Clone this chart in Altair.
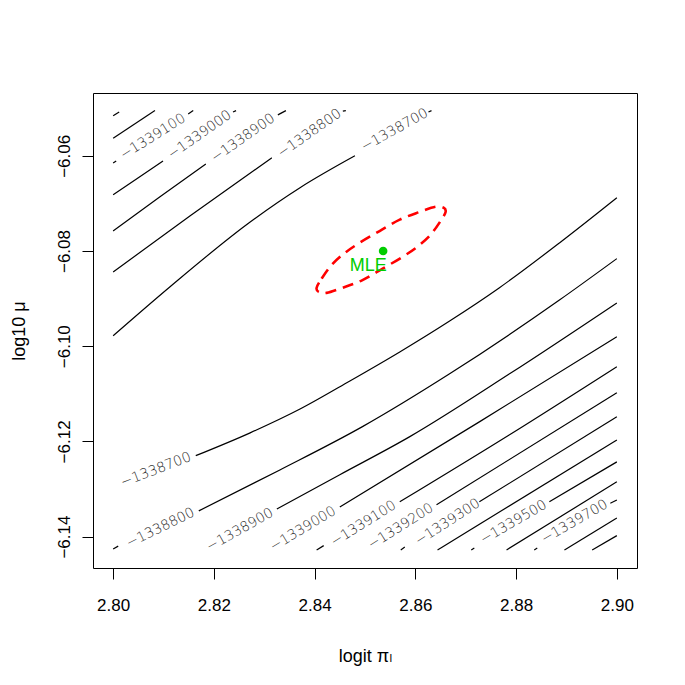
import altair as alt
import pandas as pd

# ---- axis ticks ----
x_ticks = [2.80, 2.82, 2.84, 2.86, 2.88, 2.90]
y_ticks = [-6.14, -6.12, -6.10, -6.08, -6.06]
x_domain = [2.796, 2.904]
y_domain = [-6.1466, -6.0468]

# ---- contour pieces, upper-left branches: (level, x values, y values) ----
upper_segments = [
    (-1339300, [2.8000, 2.8012], [-6.0516, -6.0508]),
    (-1339200, [2.8000, 2.8083], [-6.0563, -6.0505]),
    (-1339100, [2.8000, 2.8006], [-6.0615, -6.0611]),
    (-1339100, [2.8149, 2.8159], [-6.0512, -6.0505]),
    (-1339000, [2.8000, 2.8050, 2.8099], [-6.0682, -6.0646, -6.0611]),
    (-1339000, [2.8238, 2.8244], [-6.0508, -6.0505]),
    (-1338900, [2.8000, 2.8093, 2.8184], [-6.0758, -6.0686, -6.0617]),
    (-1338900, [2.8327, 2.8343], [-6.0514, -6.0505]),
    (-1338800, [2.8000, 2.8153, 2.8315], [-6.0844, -6.0726, -6.0604]),
    (-1338800, [2.8456, 2.8462], [-6.0506, -6.0505]),
    (-1338700, [2.8000, 2.8113, 2.8272, 2.8371, 2.8480],
               [-6.0978, -6.0875, -6.0739, -6.0667, -6.0600]),
    (-1338700, [2.8626, 2.8632], [-6.0508, -6.0505]),
]

# ---- contour pieces, lower-right branches ----
lower_segments = [
    (-1338700, [2.8164, 2.8272, 2.8371, 2.8470, 2.8569, 2.8668, 2.8767, 2.8886, 2.9000],
               [-6.1230, -6.1182, -6.1132, -6.1073, -6.1012, -6.0947, -6.0877, -6.0783, -6.0688]),
    (-1338800, [2.8000, 2.8010], [-6.1426, -6.1420]),
    (-1338800, [2.8170, 2.8331, 2.8495, 2.8668, 2.8886, 2.9000],
               [-6.1346, -6.1260, -6.1169, -6.1058, -6.0903, -6.0816]),
    (-1338900, [2.8325, 2.8450, 2.8589, 2.8787, 2.9000],
               [-6.1342, -6.1270, -6.1190, -6.1058, -6.0909]),
    (-1339000, [2.8450, 2.8727, 2.9000], [-6.1338, -6.1159, -6.0980]),
    (-1339100, [2.8404, 2.8418], [-6.1428, -6.1419]),
    (-1339100, [2.8569, 2.8787, 2.9000], [-6.1327, -6.1186, -6.1043]),
    (-1339200, [2.8642, 2.9000], [-6.1333, -6.1098]),
    (-1339300, [2.8571, 2.8579], [-6.1428, -6.1422]),
    (-1339300, [2.8727, 2.9000], [-6.1327, -6.1148]),
    (-1339400, [2.8644, 2.9000], [-6.1428, -6.1197]),
    (-1339500, [2.8711, 2.8717], [-6.1428, -6.1424]),
    (-1339500, [2.8866, 2.9000], [-6.1327, -6.1243]),
    (-1339600, [2.8781, 2.9000], [-6.1428, -6.1285]),
    (-1339700, [2.8836, 2.8842], [-6.1428, -6.1424]),
    (-1339700, [2.8987, 2.9000], [-6.1330, -6.1323]),
    (-1339800, [2.8896, 2.9000], [-6.1428, -6.1361]),
    (-1339900, [2.8951, 2.9000], [-6.1428, -6.1398]),
]

# ---- contour labels ----
label_text = ["\u22121339100", "\u22121339000", "\u22121338900", "\u22121338800", "\u22121338700",
              "\u22121338700", "\u22121338800", "\u22121338900", "\u22121339000", "\u22121339100",
              "\u22121339200", "\u22121339300", "\u22121339500", "\u22121339700"]
label_x = [2.8079, 2.8172, 2.8258, 2.8390, 2.8559,
           2.8085, 2.8094, 2.8252, 2.8377, 2.8497,
           2.8571, 2.8664, 2.8795, 2.8916]
label_y = [-6.0560, -6.0556, -6.0563, -6.0553, -6.0546,
           -6.1260, -6.1382, -6.1386, -6.1384, -6.1373,
           -6.1379, -6.1370, -6.1370, -6.1369]
label_angle = [328, 325, 325, 325, 331,
               339, 334, 331, 329, 328,
               328, 327, 330, 330]

# ---- confidence region (dashed red) ----
ellipse_x = [2.8404, 2.8414, 2.8434, 2.8460, 2.8489, 2.8529, 2.8569, 2.8608, 2.8640, 2.8656,
             2.8660, 2.8650, 2.8630, 2.8604, 2.8575, 2.8535, 2.8495, 2.8456, 2.8424, 2.8408]
ellipse_y = [-6.0877, -6.0858, -6.0829, -6.0804, -6.0783, -6.0758, -6.0734, -6.0718, -6.0707, -6.0709,
             -6.0718, -6.0737, -6.0766, -6.0791, -6.0812, -6.0837, -6.0861, -6.0877, -6.0888, -6.0886]

# ---- MLE ----
mle_x = [2.8536]
mle_y = [-6.0800]
mle_text = ["MLE"]

# ---------------- build tables ----------------
rows = []
for i, (lev, xs, ys) in enumerate(upper_segments + lower_segments):
    for j, (xv, yv) in enumerate(zip(xs, ys)):
        rows.append({"seg": i, "level": lev, "o": j, "x": xv, "y": yv})
seg_df = pd.DataFrame(rows)

lab_df = pd.DataFrame({"x": label_x, "y": label_y, "t": label_text, "a": label_angle})
ell_df = pd.DataFrame({"x": ellipse_x, "y": ellipse_y, "o": list(range(len(ellipse_x)))})
mle_df = pd.DataFrame({"x": mle_x, "y": mle_y, "t": mle_text})

FONT = "Liberation Sans, Arial, Helvetica, DejaVu Sans"

xscale = alt.Scale(domain=x_domain, nice=False, zero=False)
yscale = alt.Scale(domain=y_domain, nice=False, zero=False)

x_axis = alt.Axis(
    values=x_ticks, format=".2f", grid=False, domain=False,
    tickSize=11, tickColor="black", tickWidth=1,
    labelFont=FONT, labelFontSize=17, labelColor="black",
    labelPadding=18, labelBaseline="top", labelFlush=False, labelOverlap=False,
    title="logit \u03c0\u2097", titleFont=FONT, titleFontSize=18, titleFontWeight="normal",
    titleColor="black", titleY=93, titleBaseline="alphabetic",
)
y_axis = alt.Axis(
    values=y_ticks, format=".2f", grid=False, domain=False,
    tickSize=11, tickColor="black", tickWidth=1,
    labelFont=FONT, labelFontSize=17, labelColor="black",
    labelAngle=270, labelAlign="center", labelBaseline="alphabetic",
    labelPadding=13, labelFlush=False, labelOverlap=False,
    title="log10 \u03bc", titleFont=FONT, titleFontSize=18, titleFontWeight="normal",
    titleColor="black", titleAngle=270, titleAlign="center", titleBaseline="alphabetic",
    titleX=-69, titleY=237.5,
)

base_x = alt.X("x:Q", scale=xscale, axis=x_axis)
base_y = alt.Y("y:Q", scale=yscale, axis=y_axis)

lines = alt.Chart(seg_df).mark_line(color="black", strokeWidth=1.2, interpolate="monotone").encode(
    x=base_x, y=base_y, detail="seg:N", order="o:Q"
)

labels = alt.Chart(lab_df).mark_text(
    font="DejaVu Sans", fontSize=14, fontWeight=200, color="#2e2e2e",
    align="center", baseline="middle"
).encode(
    x=alt.X("x:Q", scale=xscale), y=alt.Y("y:Q", scale=yscale),
    text="t:N", angle=alt.Angle("a:Q", scale=None)
)

ellipse = alt.Chart(ell_df).mark_line(
    color="#FF0000", strokeWidth=2.6, strokeDash=[11, 7], interpolate="cardinal-closed"
).encode(x=alt.X("x:Q", scale=xscale), y=alt.Y("y:Q", scale=yscale), order="o:Q")

mle_pt = alt.Chart(mle_df).mark_circle(size=75, color="#00CD00", opacity=1).encode(
    x=alt.X("x:Q", scale=xscale), y=alt.Y("y:Q", scale=yscale)
)
mle_lab = alt.Chart(mle_df).mark_text(
    font=FONT, fontSize=18, color="#00CD00", align="center", baseline="alphabetic", dx=-15, dy=20
).encode(x=alt.X("x:Q", scale=xscale), y=alt.Y("y:Q", scale=yscale), text="t:N")

chart = alt.layer(lines, labels, ellipse, mle_pt, mle_lab).properties(
    width=544, height=475,
    autosize=alt.AutoSizeParams(type="none"),
    padding={"left": 85, "top": 85, "right": 40, "bottom": 100},
    background="white",
).configure_view(stroke="black", strokeWidth=1)

chart.save("out.html", embed_options={"renderer": "svg", "actions": False})
